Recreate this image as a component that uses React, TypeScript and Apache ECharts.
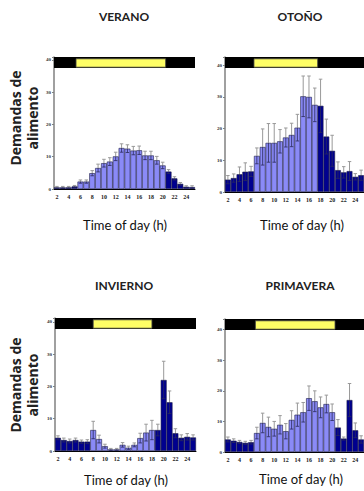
import React, { useEffect, useRef } from "react";
import * as echarts from "echarts";

// Category labels (bar i is printed with label i+1; only even ones shown)
const xLabels = ["2","3","4","5","6","7","8","9","10","11","12","13","14","15","16","17","18","19","20","21","22","23","24","25"];

const veranoMean = [0.5,0.5,0.5,0.8,2.3,2.3,4.9,6.5,8.0,8.5,10.1,12.7,12.5,11.9,12.0,10.4,10.4,8.9,7.3,5.4,3.3,1.6,0.7,0.6];
const veranoErr = [0.3,0.3,0.3,0.3,0.5,0.5,0.8,1.2,1.2,1.2,1.3,1.3,1.2,1.3,1.3,1.3,1.3,1.2,1.0,0.6,0.5,0.4,0.3,0.4];
const veranoDayBars = [5, 19];
const veranoLight = [3.75, 19];

const otonoMean = [3.9,4.4,5.6,6.4,6.5,11.4,14.2,15.5,15.5,16.0,17.2,18.0,20.3,30.2,30.0,27.5,27.2,17.5,13.0,6.9,6.2,6.6,4.8,5.3];
const otonoErr = [1.3,1.3,2.3,2.8,1.6,2.5,5.7,6.1,6.1,3.7,3.0,3.7,4.2,6.4,6.6,5.3,8.4,5.5,4.9,2.6,1.8,3.0,1.0,1.6];
const otonoDayBars = [6, 16];
const otonoLight = [5, 16];

const inviernoMean = [4.1,3.4,3.1,3.4,2.9,2.9,6.5,3.7,1.5,0.5,0.5,1.9,1.0,1.9,4.0,5.7,6.5,6.5,22.0,15.1,5.5,4.1,4.4,4.2];
const inviernoErr = [0.6,0.6,0.6,0.6,0.5,0.6,2.7,1.2,0.6,0.3,0.3,0.7,0.5,0.6,1.5,2.6,3.0,1.8,5.8,3.5,1.4,0.9,1.0,0.8];
const inviernoDayBars = [7, 17];
const inviernoLight = [6.5, 16.5];

const primaveraMean = [4.1,3.7,3.3,3.0,3.2,6.2,9.5,8.2,7.6,8.9,6.8,10.5,12.2,13.0,17.6,16.6,14.6,15.7,13.0,8.0,4.4,17.0,7.1,4.1];
const primaveraErr = [0.8,0.6,0.5,0.5,0.6,1.9,3.2,3.2,2.4,3.0,2.5,3.0,3.8,3.2,4.0,3.4,3.4,2.9,2.7,2.6,0.5,5.4,2.4,1.2];
const primaveraDayBars = [6, 19];
const primaveraLight = [5.25, 19];

const yTicks = [0, 10, 20, 30, 40];

const panels = [
  { title: "VERANO", mean: veranoMean, err: veranoErr, day: veranoDayBars, light: veranoLight,
    left: 54, top: 57, width: 141, zero: 189, ymax: 40.9, tx: 124, ty: 16, timeX: 125, timeY: 225 },
  { title: "OTOÑO", mean: otonoMean, err: otonoErr, day: otonoDayBars, light: otonoLight,
    left: 225, top: 57, width: 141, zero: 192, ymax: 42.6, tx: 300, ty: 16, timeX: 302, timeY: 225 },
  { title: "INVIERNO", mean: inviernoMean, err: inviernoErr, day: inviernoDayBars, light: inviernoLight,
    left: 55, top: 318, width: 141, zero: 451, ymax: 41.2, tx: 124, ty: 285, timeX: 126, timeY: 480 },
  { title: "PRIMAVERA", mean: primaveraMean, err: primaveraErr, day: primaveraDayBars, light: primaveraLight,
    left: 225, top: 319, width: 141, zero: 452, ymax: 43.5, tx: 300, ty: 285, timeX: 301, timeY: 479 },
];

const LIGHT = "#8a8af7";
const DARK = "#00008f";

export default function App() {
  const ref = useRef<HTMLDivElement>(null);
  useEffect(() => {
    if (!ref.current) return;
    const chart = echarts.init(ref.current, undefined, { renderer: "svg" });
    const grid: any[] = [];
    const xAxis: any[] = [];
    const yAxis: any[] = [];
    const series: any[] = [];
    const graphic: any[] = [];

    panels.forEach((p, g) => {
      grid.push({ left: p.left, top: p.top, width: p.width, height: p.zero - p.top });
      xAxis.push({
        type: "category", gridIndex: g, data: xLabels,
        axisLine: { lineStyle: { color: "#000", width: 1 } },
        axisTick: { show: false },
        axisLabel: { interval: 1, fontSize: 6, fontFamily: "Liberation Serif", fontWeight: "bold", color: "#222", margin: 5 },
      });
      xAxis.push({ type: "value", gridIndex: g, min: 0, max: 24, show: false });
      yAxis.push({
        type: "value", gridIndex: g, min: 0, max: p.ymax, interval: 10,
        splitLine: { show: false },
        axisLine: { show: true, lineStyle: { color: "#808080", width: 1.5 } },
        axisTick: { show: true, length: 2, lineStyle: { color: "#808080" } },
        axisLabel: {
          fontSize: 5, fontFamily: "Liberation Serif", fontWeight: "bold", color: "#333", margin: 3,
          formatter: (v: number) => (yTicks.indexOf(v) >= 0 ? String(v) : ""),
        },
      });
      series.push({
        type: "bar", xAxisIndex: 2 * g, yAxisIndex: g, barCategoryGap: "0%",
        data: p.mean.map((v, i) => ({
          value: v,
          itemStyle: { color: i + 1 >= p.day[0] && i + 1 <= p.day[1] ? LIGHT : DARK },
        })),
        itemStyle: { borderColor: "#1c1c44", borderWidth: 0.6 },
        z: 2,
      });
      series.push({
        type: "custom", xAxisIndex: 2 * g, yAxisIndex: g, z: 3,
        data: p.mean.map((v, i) => [i, v, p.err[i]]),
        encode: { x: 0, y: 1 },
        renderItem: (params: any, api: any) => {
          const i = api.value(0), m = api.value(1), e = api.value(2);
          const pt = api.coord([i, m + e]);
          const pm = api.coord([i, m]);
          const pb = api.coord([i, Math.max(0, m - e)]);
          const half = api.size([1, 0])[0] * 0.3;
          return {
            type: "group",
            children: [
              { type: "line", shape: { x1: pt[0], y1: pt[1], x2: pm[0], y2: pm[1] }, style: { stroke: "#999", lineWidth: 1 } },
              { type: "line", shape: { x1: pt[0] - half, y1: pt[1], x2: pt[0] + half, y2: pt[1] }, style: { stroke: "#999", lineWidth: 1 } },
              { type: "line", shape: { x1: pm[0], y1: pm[1], x2: pb[0], y2: pb[1] }, style: { stroke: "#2a2a5a", lineWidth: 0.8 } },
              { type: "line", shape: { x1: pb[0] - half, y1: pb[1], x2: pb[0] + half, y2: pb[1] }, style: { stroke: "#2a2a5a", lineWidth: 0.8 } },
            ],
          };
        },
      });
      series.push({
        type: "custom", xAxisIndex: 2 * g + 1, yAxisIndex: g, z: 4,
        data: [[0, 24, 0], [p.light[0], p.light[1], 1]],
        encode: { x: [0, 1], y: 2 },
        renderItem: (params: any, api: any) => {
          const a = api.coord([api.value(0), p.ymax]);
          const b = api.coord([api.value(1), p.ymax]);
          const h = 11;
          if (api.value(2) === 1) {
            return { type: "rect", shape: { x: a[0], y: a[1] + 1.8, width: b[0] - a[0], height: h - 2.6 },
              style: { fill: "#ffff66", stroke: "#444", lineWidth: 0.8 } };
          }
          return { type: "rect", shape: { x: a[0], y: a[1], width: b[0] - a[0], height: h }, style: { fill: "#000" } };
        },
      });
      graphic.push({
        type: "text", x: p.tx, y: p.ty,
        style: { text: p.title, font: "bold 12px Lato", fill: "#222", align: "center", verticalAlign: "middle", textAlign: "center", textVerticalAlign: "middle" },
      });
      graphic.push({
        type: "text", x: p.timeX, y: p.timeY,
        style: { text: "Time of day (h)", font: "13px Lato", fill: "#111", align: "center", verticalAlign: "middle", textAlign: "center", textVerticalAlign: "middle" },
      });
    });

    [118, 385].forEach((cy) => {
      graphic.push({
        type: "text", x: 24, y: cy, rotation: Math.PI / 2,
        style: { text: "Demandas de\nalimento", font: 'bold 14px "Open Sans"', lineHeight: 17, fill: "#222",
          align: "center", verticalAlign: "middle", textAlign: "center", textVerticalAlign: "middle" },
      });
    });

    chart.setOption({ animation: false, backgroundColor: "#fff", grid, xAxis, yAxis, series, graphic });
    return () => chart.dispose();
  }, []);
  return <div ref={ref} style={{ position: "fixed", left: 0, top: 0, width: 364, height: 491 }} />;
}
